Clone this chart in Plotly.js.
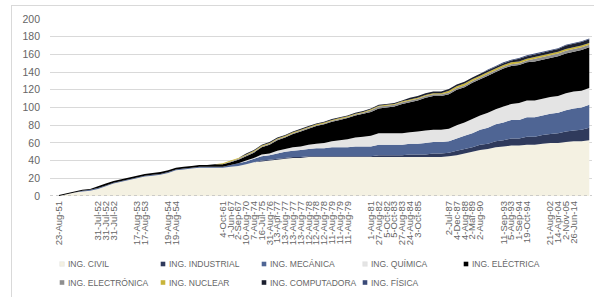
<!DOCTYPE html>
<html>
<head>
<meta charset="utf-8">
<script src="https://cdn.plot.ly/plotly-3.0.1.min.js"></script>
<style>
  html, body { margin: 0; padding: 0; background: #ffffff; }
  #frame { position: absolute; left: 11px; top: 5px; width: 600px; height: 300px; border: 1px solid #d9d9d9; box-sizing: border-box; }
  #chart { position: absolute; left: 0; top: 0; width: 594px; height: 297px; }
</style>
</head>
<body>
<div id="frame"></div>
<div id="chart"></div>
<script>
// Category labels (blank = unlabeled category)
const dates = [
  '23-Aug-51','','','','',
  '31-Jul-52','31-Jul-52','31-Jul-52','','',
  '17-Aug-53','17-Aug-53','','',
  '19-Aug-54','19-Aug-54','','','','','',
  '4-Oct-61','1-Jun-67','2-Sep-67','10-Aug-70','7-Aug-74','16-Jul-75','31-Aug-76','13-Apr-77',
  '13-Aug-77','13-Aug-77','13-Aug-77','12-Aug-78','12-Aug-78','12-Aug-78','11-Aug-79','11-Aug-79','11-Aug-79',
  '','',
  '1-Aug-81','27-Aug-82','5-Oct-82','5-Oct-83','27-Aug-83','24-Aug-84','3-Oct-85',
  '','','',
  '2-Jul-87','4-Dec-87','4-Aug-88','2-Mar-89','2-Aug-90',
  '','',
  '11-Sep-93','5-Aug-93','1-Sep-94','19-Oct-94',
  '','',
  '21-Aug-02','14-Apr-04','2-Nov-05','26-Jun-14',
  '',''
];

const seriesNames = ['ING. CIVIL','ING. INDUSTRIAL','ING. MECÁNICA','ING. QUÍMICA','ING. ELÉCTRICA',
                     'ING. ELECTRÓNICA','ING. NUCLEAR','ING. COMPUTADORA','ING. FÍSICA'];
const seriesColors = ['#F4F1E2','#2F3A5C','#4F6594','#E4E4E4','#000000',
                      '#8F8F8F','#C8B43A','#1B1F2E','#3A4A78'];

const civil = [0,2,4,5,6,8,11,14,16,18,20,22,23,24,26,29,30,31,32,32,32,32,33,34,36,38,39,40,41,42,43,43,44,44,44,44,44,44,44,44,44,44,44,44,44,44,44,44,44,44,45,46,48,50,52,53,55,56,57,57,58,58,59,60,60,61,62,62,63];
const industrial = [0,0,0,0,0,0,0,0,0,0,0,0,0,0,0,0,0,0,0,0,0,0,0,0,0,0,1,1,1,1,1,1,1,1,1,1,1,1,1,1,1,2,2,2,2,3,3,3,4,4,4,5,5,5,6,6,7,7,8,8,9,9,10,10,11,12,12,13,14];
const mecanica = [0,0,0,1,1,1,1,1,1,1,1,1,1,1,1,1,1,1,1,1,1,1,2,3,3,4,5,5,6,7,7,8,8,9,9,10,10,10,11,11,11,12,12,12,12,12,12,13,13,13,13,14,15,16,17,18,19,20,21,21,22,22,22,23,23,24,25,25,26];
const quimica = [0,0,0,0,0,0,0,0,0,0,0,0,0,0,0,0,0,0,0,0,0,0,0,0,1,1,2,2,3,3,4,4,5,5,6,7,8,9,10,11,12,13,13,13,13,13,14,14,14,14,14,15,15,16,16,17,17,18,18,19,19,19,19,19,19,19,19,19,19];
const electrica = [1,1,1,1,1,2,2,2,2,2,2,2,2,2,2,2,2,2,2,2,3,3,3,4,5,6,8,10,12,13,15,17,18,20,21,22,23,24,25,26,27,28,29,30,33,34,35,37,38,38,39,40,40,41,41,42,42,43,43,43,43,44,44,44,45,45,45,46,46];
const electronica = [0,0,0,0,0,0,0,0,0,0,0,0,0,0,0,0,0,0,0,0,0,0,1,1,1,1,1,1,1,1,1,1,1,1,1,1,1,1,1,1,2,2,2,2,2,2,2,2,2,2,2,2,2,2,2,2,2,2,2,2,2,3,3,3,3,3,3,3,3];
const nuclear = [0,0,0,0,0,0,0,0,0,0,0,0,0,0,0,0,0,0,0,0,0,1,1,1,1,1,1,1,1,1,1,1,1,1,1,1,1,1,1,1,1,1,1,1,1,1,1,1,1,1,2,2,2,2,2,2,2,2,2,2,2,2,2,2,2,2,2,2,2];
const computadora = [0,0,0,0,0,0,0,0,0,0,0,0,0,0,0,0,0,0,0,0,0,0,0,0,1,1,1,1,1,1,1,1,1,1,1,1,1,1,1,1,1,1,1,1,1,2,2,2,2,2,2,2,2,2,2,2,2,2,2,3,3,3,3,3,3,4,4,4,4];
const fisica = [0,0,0,0,0,0,0,0,0,0,0,0,0,0,0,0,0,0,0,0,0,0,0,0,0,0,0,0,0,0,0,0,0,0,0,0,0,0,0,0,0,0,0,0,0,0,0,0,0,0,0,0,0,0,0,1,1,1,1,1,1,1,1,1,1,1,1,1,1];

const yTicks = [0,20,40,60,80,100,120,140,160,180,200];

const allSeries = [civil, industrial, mecanica, quimica, electrica, electronica, nuclear, computadora, fisica];
const xIdx = dates.map((d, i) => i);
const tickvals = xIdx.filter(i => dates[i] !== '');
const ticktext = tickvals.map(i => dates[i]);

const traces = allSeries.map((vals, k) => ({
  type: 'scatter', x: xIdx, y: vals, name: seriesNames[k],
  stackgroup: 'one', mode: 'none', fillcolor: seriesColors[k],
  line: {width: 0}, showlegend: false, hoverinfo: 'skip'
}));

// Plot-area geometry (pixels) used to place the legend below the chart
const M = {l: 50, r: 2, t: 19, b: 101};
const PW = 594 - M.l - M.r, PH = 297 - M.t - M.b;
const px2x = p => (p - M.l) / PW;
const py2y = p => (297 - M.b - p) / PH;

const shapes = [{type: 'line', xref: 'paper', yref: 'y', x0: 0, x1: 1, y0: 0, y1: 0,
                 line: {color: '#bfbfbf', width: 1.5, dash: 'dot'}}];
const annotations = [];
seriesNames.forEach((n, k) => {
  const col = k % 5, row = Math.floor(k / 5);
  const mx = 62 + 101 * col, my = 264 + 18.5 * row;
  shapes.push({type: 'rect', xref: 'paper', yref: 'paper',
    x0: px2x(mx - 2.3), x1: px2x(mx + 2.3), y0: py2y(my + 2.3), y1: py2y(my - 2.3),
    fillcolor: seriesColors[k], line: {width: (k === 0 || k === 3) ? 0.5 : 0, color: '#e0e0e0'}});
  annotations.push({xref: 'paper', yref: 'paper', x: px2x(mx + 3.5), y: py2y(my),
    xanchor: 'left', yanchor: 'middle', showarrow: false, text: n,
    font: {size: 8.5, color: '#666666'}});
});

const layout = {
  width: 594, height: 297,
  margin: M,
  paper_bgcolor: 'rgba(0,0,0,0)', plot_bgcolor: 'rgba(0,0,0,0)',
  font: {family: 'Liberation Sans, Arial, sans-serif', color: '#666666'},
  showlegend: false,
  xaxis: {
    range: [-1.15, 68.35], tickmode: 'array', tickvals: tickvals, ticktext: ticktext,
    tickangle: -90, tickfont: {size: 9.5, color: '#666666', family: 'Liberation Sans Narrow, Liberation Sans, Arial, sans-serif'},
    showgrid: false, zeroline: false, automargin: false,
    showline: false, ticks: '', ticklabelstandoff: 2
  },
  yaxis: {
    range: [0, 200], tickmode: 'array', tickvals: yTicks, tickfont: {size: 10.5, color: '#666666'},
    showgrid: true, gridcolor: '#d9d9d9', gridwidth: 1, zeroline: false, showline: false,
    ticks: '', ticklabelstandoff: 9, automargin: false
  },
  shapes: shapes,
  annotations: annotations
};

Plotly.newPlot('chart', traces, layout, {staticPlot: true, displayModeBar: false});
</script>
</body>
</html>
